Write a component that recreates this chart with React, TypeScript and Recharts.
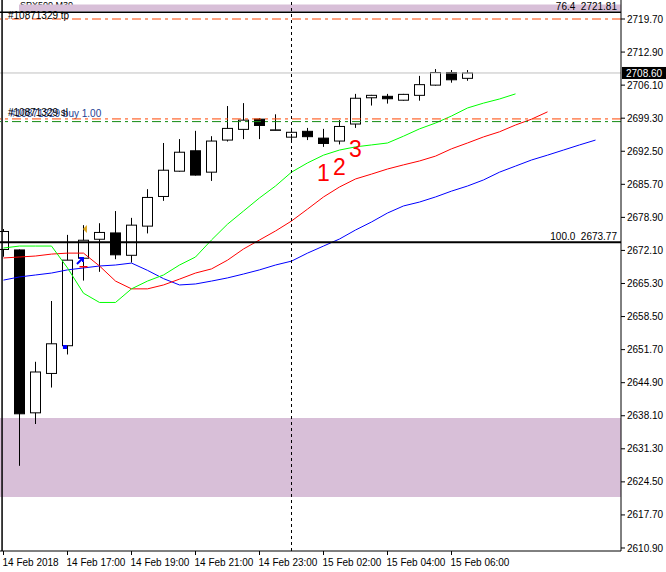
import React from 'react';
import {
  ComposedChart,
  Bar,
  Line,
  XAxis,
  YAxis,
  ReferenceLine,
  ReferenceArea,
  ReferenceDot,
} from 'recharts';

document.body.style.margin = '0';

const FONT = '"Liberation Sans", Arial, sans-serif';

// SPX500 M30 candles (14 Feb 15:00 .. 15 Feb 07:30)
const opens = [2672.3, 2672.2, 2638.7, 2646.8, 2652.5, 2670.5, 2674.4, 2675.7, 2671.1, 2677.1, 2683.2, 2688.4, 2692.6, 2688.2, 2694.8, 2697.0, 2699.1, 2696.9, 2695.4, 2696.6, 2695.2, 2694.6, 2698.1, 2703.5, 2703.8, 2703.0, 2704.0, 2706.1, 2708.7, 2707.5];
const highs = [2676.5, 2672.3, 2649.2, 2661.7, 2675.3, 2677.3, 2677.7, 2680.2, 2678.8, 2684.7, 2694.2, 2695.0, 2696.7, 2695.6, 2701.8, 2702.4, 2699.3, 2700.1, 2697.3, 2697.3, 2697.1, 2698.9, 2704.3, 2704.1, 2704.3, 2704.3, 2708.0, 2709.4, 2709.2, 2709.2];
const lows = [2670.8, 2627.8, 2636.4, 2643.9, 2650.7, 2665.9, 2667.7, 2670.3, 2669.6, 2675.6, 2682.3, 2688.3, 2687.5, 2686.4, 2694.5, 2695.0, 2695.0, 2696.8, 2694.8, 2694.8, 2693.4, 2693.9, 2697.3, 2701.9, 2702.3, 2702.9, 2702.9, 2706.0, 2706.6, 2707.0];
const closes = [2676.0, 2638.5, 2647.1, 2652.9, 2670.1, 2674.2, 2675.8, 2671.2, 2677.3, 2683.0, 2688.6, 2692.3, 2687.6, 2694.6, 2697.2, 2698.9, 2697.8, 2696.9, 2696.4, 2695.5, 2694.1, 2697.6, 2703.4, 2704.0, 2703.3, 2704.2, 2706.2, 2708.7, 2707.2, 2708.6];

// alligator lines (shifted forward 3 / 5 / 8 bars)
const lips = [2672.6, 2673.0, 2673.0, 2673.0, 2668.5, 2663.3, 2661.4, 2661.4, 2664.2, 2665.8, 2667.05, 2669.1, 2670.75, 2674.25, 2677.5, 2680.2, 2682.9, 2685.35, 2688.2, 2690.1, 2691.7, 2692.75, 2693.4, 2693.8, 2694.2, 2695.6, 2697.1, 2698.3, 2699.75, 2701.4, 2702.4, 2703.25, 2704.3];
const teeth = [2670.55, 2670.75, 2670.95, 2671.35, 2671.55, 2671.55, 2668.9, 2665.8, 2664.2, 2664.2, 2665.0, 2666.2, 2667.45, 2668.3, 2670.1, 2672.4, 2674.25, 2676.1, 2678.15, 2680.6, 2683.1, 2685.15, 2686.8, 2687.8, 2688.85, 2689.7, 2690.5, 2691.5, 2693.0, 2694.2, 2695.45, 2696.5, 2697.9, 2699.1, 2700.6];
const jaw = [2666.0, 2666.65, 2667.05, 2667.45, 2668.1, 2668.5, 2668.9, 2669.1, 2669.5, 2668.0, 2666.3, 2665.0, 2665.2, 2665.8, 2666.45, 2667.25, 2668.1, 2669.1, 2669.9, 2671.55, 2673.0, 2674.45, 2676.3, 2677.95, 2679.8, 2681.25, 2682.05, 2683.1, 2684.3, 2685.35, 2686.6, 2688.2, 2689.45, 2690.7, 2691.7, 2692.75, 2693.8, 2694.8];

const timeTicks = [0, 4, 8, 12, 16, 20, 24, 28];
const timeLabels = ['14 Feb 2018', '14 Feb 17:00', '14 Feb 19:00', '14 Feb 21:00', '14 Feb 23:00', '15 Feb 02:00', '15 Feb 04:00', '15 Feb 06:00'];

const priceTicks = [2719.7, 2712.9, 2706.1, 2699.3, 2692.5, 2685.7, 2678.9, 2672.1, 2665.3, 2658.5, 2651.7, 2644.9, 2638.1, 2631.3, 2624.5, 2617.7, 2610.9];

const lastPrice = 2708.6;
const tpLevel = 2719.7;
const slLevel = 2699.15;
const openLevel = 2698.6;
const fib100 = 2673.77;
const fibTopLine = 2721.1;
const zoneTop = [2721.24, 2722.68];
const zoneLow = [2621.39, 2637.64];
const separatorBar = 18;

const waveLabels = [
  { text: '1', i: 20, p: 2688.0 },
  { text: '2', i: 21, p: 2689.3 },
  { text: '3', i: 22, p: 2693.0 },
];

const chartData = jaw.map((_, i) => ({
  i,
  range: i < opens.length ? [lows[i], highs[i]] : null,
  open: opens[i],
  high: highs[i],
  low: lows[i],
  close: closes[i],
  lips: lips[i],
  teeth: teeth[i],
  jaw: jaw[i],
}));

const Candle = (props: any) => {
  let { x, y, width, height, payload } = props;
  if (!payload || payload.open == null || height == null) return null;
  if (height < 0) {
    y += height;
    height = -height;
  }
  const { open, close, high, low } = payload;
  const k = height / (high - low);
  const yo = y + (high - open) * k;
  const yc = y + (high - close) * k;
  const cx = x + width / 2;
  const up = close >= open;
  const top = Math.min(yo, yc);
  const bh = Math.max(Math.abs(yo - yc), 0.5);
  return (
    <g>
      <line x1={cx} x2={cx} y1={y} y2={y + height} stroke="#000" strokeWidth={1} />
      <rect x={cx - 5} y={top} width={10} height={bh} fill={up ? '#fff' : '#000'} stroke="#000" strokeWidth={1} />
    </g>
  );
};

const TimeTick = (props: any) => {
  const { x, y, payload } = props;
  const k = timeTicks.indexOf(payload.value);
  return (
    <text x={x - 1} y={y + 9} textAnchor="start" fontSize={10} fontFamily={FONT} fill="#000">
      {timeLabels[k]}
    </text>
  );
};

const rightText = (txt: string) => (p: any) => {
  const vb = p.viewBox;
  return (
    <text x={vb.x + vb.width - 4} y={vb.y - 2} textAnchor="end" fontSize={10} fontFamily={FONT} fill="#000">
      {txt}
    </text>
  );
};

const leftText = (txt: string, color: string, dx: number, dy: number) => (p: any) => {
  const vb = p.viewBox;
  return (
    <text x={vb.x + dx} y={vb.y + dy} textAnchor="start" fontSize={10} fontFamily={FONT} fill={color}>
      {txt}
    </text>
  );
};

const PriceBox = (p: any) => {
  const vb = p.viewBox;
  const x0 = vb.x + vb.width + 1;
  return (
    <g>
      <rect x={x0} y={vb.y - 6} width={44} height={12} fill="#000" />
      <text x={x0 + 4} y={vb.y + 4} fontSize={10} fontFamily={FONT} fill="#fff">
        {lastPrice.toFixed(2)}
      </text>
    </g>
  );
};

const BuyArrow = (p: any) => (
  <path d={`M${p.cx - 3},${p.cy + 3} L${p.cx + 2},${p.cy - 2} M${p.cx - 1},${p.cy - 3} L${p.cx + 3},${p.cy - 3} L${p.cx + 3},${p.cy + 1}`} stroke="#0000ff" strokeWidth={2} fill="none" />
);
const SmallMark = (p: any) => <rect x={p.cx - 2} y={p.cy - 2} width={4} height={4} fill="#0000ff" />;
const RedDash = (p: any) => <line x1={p.cx - 4} x2={p.cx + 4} y1={p.cy} y2={p.cy} stroke="#ff0000" strokeWidth={1.5} />;
const OrangeFlag = (p: any) => (
  <path d={`M${p.cx + 2},${p.cy - 4} L${p.cx - 2},${p.cy} L${p.cx + 2},${p.cy + 4} Z`} fill="#daa520" />
);

export default function App() {
  return (
    <div style={{ width: 666, height: 572, background: '#fff' }}>
      <ComposedChart width={666} height={572} data={chartData} margin={{ top: 0, right: 0, bottom: 0, left: 0 }}>
        <XAxis
          dataKey="i"
          type="number"
          domain={[-0.21875, 38.59375]}
          allowDataOverflow
          ticks={timeTicks}
          interval={0}
          height={21}
          tick={<TimeTick />}
          tickSize={4}
          axisLine={{ stroke: '#000' }}
          tickLine={{ stroke: '#000' }}
        />
        <YAxis
          orientation="right"
          type="number"
          domain={[2610.28, 2723.61]}
          allowDataOverflow
          ticks={priceTicks}
          interval={0}
          width={45}
          tickFormatter={(v: number) => v.toFixed(2)}
          tickSize={4}
          tickMargin={2}
          tick={{ fill: '#000', fontSize: 10, fontFamily: FONT }}
          axisLine={{ stroke: '#000' }}
          tickLine={{ stroke: '#000' }}
        />

        <ReferenceArea y1={zoneLow[0]} y2={zoneLow[1]} fill="#d8bfd8" fillOpacity={1} stroke="none" />
        <ReferenceArea x1={0.97} x2={38.59} y1={zoneTop[0]} y2={zoneTop[1]} fill="#d8bfd8" fillOpacity={1} stroke="none" />

        <ReferenceLine y={lastPrice} stroke="#c0c0c0" strokeWidth={1} label={PriceBox} />
        <ReferenceLine x={-0.09} stroke="#000" strokeWidth={1.5} />

        <Line dataKey="jaw" type="linear" stroke="#0000ff" strokeWidth={1} dot={false} activeDot={false} isAnimationActive={false} />
        <Line dataKey="teeth" type="linear" stroke="#ff0000" strokeWidth={1} dot={false} activeDot={false} isAnimationActive={false} />
        <Line dataKey="lips" type="linear" stroke="#00ff00" strokeWidth={1} dot={false} activeDot={false} isAnimationActive={false} />

        <Bar dataKey="range" barSize={10} shape={<Candle />} isAnimationActive={false} />

        <ReferenceLine y={fib100} stroke="#000" strokeWidth={2} label={rightText('100.0\u00a0\u00a02673.77')} />
        <ReferenceLine y={fibTopLine} stroke="#000" strokeWidth={1.5} label={rightText('76.4\u00a0\u00a02721.81')} />
        <ReferenceLine y={tpLevel} stroke="#ff4500" strokeDasharray="9 4 3 4" label={leftText('#10871329 tp', '#000', 8, 0)} />
        <ReferenceLine y={openLevel} stroke="#128a12" strokeDasharray="9 4 3 4" label={leftText('#10871329 buy 1.00', '#1c3f94', 10, -5)} />
        <ReferenceLine y={slLevel} stroke="#ff4500" strokeDasharray="9 4 3 4" label={leftText('#10871329 sl', '#000', 8, -3)} />
        <ReferenceLine x={separatorBar} stroke="#000" strokeDasharray="3 3" />

        <ReferenceDot x={4.78} y={2669.93} shape={BuyArrow} />
        <ReferenceDot x={3.84} y={2652.24} shape={SmallMark} />
        <ReferenceDot x={5.0} y={2668.75} shape={RedDash} />
        <ReferenceDot x={5.09} y={2676.5} shape={OrangeFlag} />

        {waveLabels.map((w) => (
          <ReferenceDot
            key={w.text}
            x={w.i}
            y={w.p}
            shape={(p: any) => (
              <text x={p.cx} y={p.cy + 8} textAnchor="middle" fontSize={23} fontFamily={FONT} fill="#ff0000">
                {w.text}
              </text>
            )}
          />
        ))}

        <text x={20} y={8} fontSize={9} fontFamily={FONT} fill="#000">SPX500,M30</text>
      </ComposedChart>
    </div>
  );
}
